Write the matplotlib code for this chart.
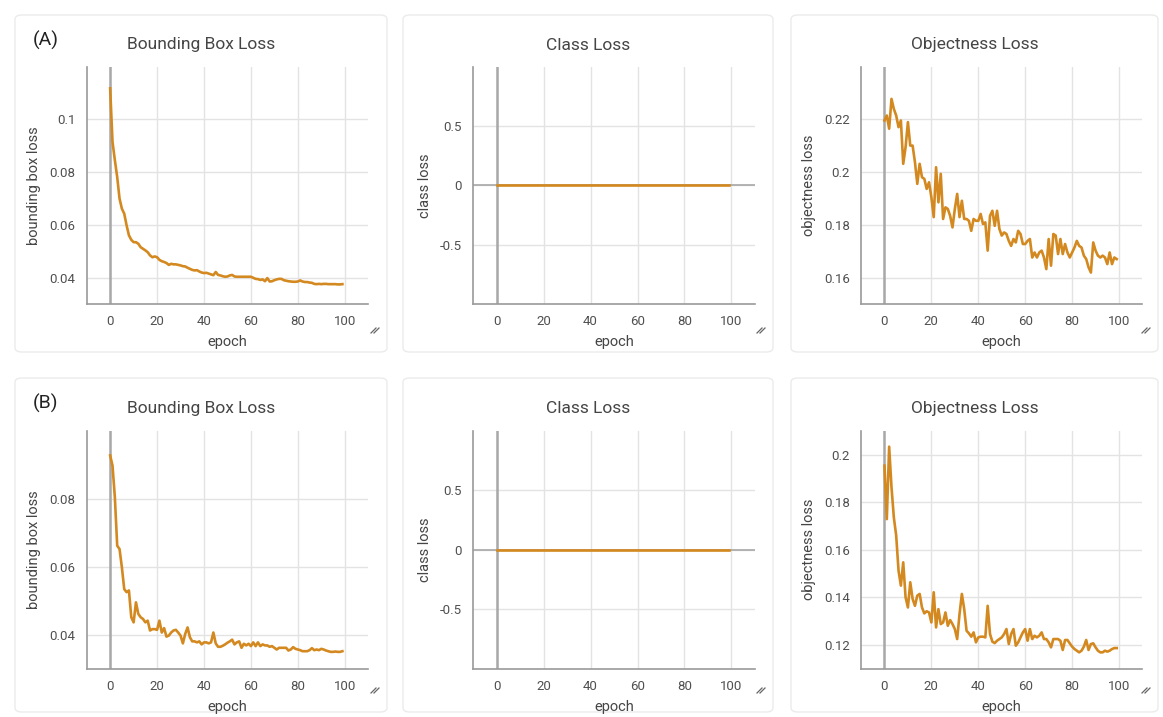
import numpy as np
import matplotlib.pyplot as plt
from matplotlib.patches import FancyBboxPatch
from matplotlib.lines import Line2D

plt.rcParams['font.family'] = ['Roboto', 'DejaVu Sans']

epochs = np.arange(100)

# (A) run
box_a = [0.1118, 0.0915, 0.0846, 0.0782, 0.0700, 0.0662, 0.0643, 0.0599, 0.0561, 0.0544,
         0.0535, 0.0535, 0.0529, 0.0516, 0.0510, 0.0504, 0.0497, 0.0485, 0.0478, 0.0481,
         0.0478, 0.0468, 0.0463, 0.0460, 0.0456, 0.0449, 0.0453, 0.0451, 0.0451, 0.0449,
         0.0447, 0.0444, 0.0443, 0.0438, 0.0434, 0.0430, 0.0428, 0.0429, 0.0424, 0.0420,
         0.0418, 0.0419, 0.0416, 0.0413, 0.0410, 0.0422, 0.0411, 0.0409, 0.0406, 0.0404,
         0.0405, 0.0409, 0.0411, 0.0405, 0.0404, 0.0404, 0.0404, 0.0404, 0.0404, 0.0404,
         0.0404, 0.0400, 0.0396, 0.0395, 0.0392, 0.0394, 0.0387, 0.0399, 0.0386, 0.0387,
         0.0391, 0.0394, 0.0396, 0.0396, 0.0391, 0.0389, 0.0387, 0.0386, 0.0385, 0.0385,
         0.0386, 0.0390, 0.0386, 0.0384, 0.0384, 0.0382, 0.0381, 0.0377, 0.0376, 0.0377,
         0.0376, 0.0377, 0.0377, 0.0376, 0.0376, 0.0376, 0.0376, 0.0375, 0.0375, 0.0376]
obj_a = [0.2196, 0.2215, 0.2165, 0.2278, 0.2240, 0.2215, 0.2171, 0.2196, 0.2032, 0.2095,
         0.2190, 0.2101, 0.2101, 0.2038, 0.1956, 0.2032, 0.1981, 0.1975, 0.1937, 0.1962,
         0.1905, 0.1830, 0.2019, 0.1886, 0.1994, 0.1823, 0.1867, 0.1861, 0.1835, 0.1791,
         0.1861, 0.1918, 0.1830, 0.1892, 0.1823, 0.1823, 0.1816, 0.1778, 0.1823, 0.1816,
         0.1816, 0.1842, 0.1804, 0.1810, 0.1703, 0.1835, 0.1854, 0.1797, 0.1854, 0.1785,
         0.1760, 0.1772, 0.1766, 0.1740, 0.1721, 0.1747, 0.1734, 0.1778, 0.1766, 0.1728,
         0.1728, 0.1740, 0.1747, 0.1677, 0.1696, 0.1677, 0.1696, 0.1703, 0.1677, 0.1633,
         0.1747, 0.1646, 0.1766, 0.1760, 0.1690, 0.1747, 0.1690, 0.1728, 0.1696, 0.1677,
         0.1696, 0.1715, 0.1740, 0.1721, 0.1715, 0.1684, 0.1671, 0.1640, 0.1620, 0.1734,
         0.1703, 0.1684, 0.1677, 0.1684, 0.1677, 0.1652, 0.1696, 0.1652, 0.1677, 0.1671]

# (B) run
box_b = [0.0928, 0.0898, 0.0805, 0.0662, 0.0652, 0.0598, 0.0534, 0.0525, 0.0530, 0.0451,
         0.0436, 0.0495, 0.0461, 0.0451, 0.0446, 0.0436, 0.0441, 0.0412, 0.0416, 0.0416,
         0.0414, 0.0441, 0.0406, 0.0419, 0.0394, 0.0397, 0.0406, 0.0412, 0.0414, 0.0406,
         0.0397, 0.0374, 0.0402, 0.0421, 0.0392, 0.0380, 0.0380, 0.0377, 0.0380, 0.0371,
         0.0377, 0.0377, 0.0374, 0.0377, 0.0406, 0.0374, 0.0364, 0.0364, 0.0367, 0.0371,
         0.0376, 0.0380, 0.0385, 0.0371, 0.0377, 0.0380, 0.0361, 0.0373, 0.0368, 0.0373,
         0.0366, 0.0377, 0.0366, 0.0377, 0.0366, 0.0371, 0.0368, 0.0368, 0.0364, 0.0366,
         0.0361, 0.0356, 0.0361, 0.0361, 0.0361, 0.0361, 0.0353, 0.0356, 0.0363, 0.0358,
         0.0356, 0.0354, 0.0351, 0.0351, 0.0351, 0.0354, 0.0360, 0.0354, 0.0356, 0.0354,
         0.0358, 0.0356, 0.0353, 0.0351, 0.0349, 0.0349, 0.0350, 0.0349, 0.0349, 0.0351]
obj_b = [0.1954, 0.1729, 0.2034, 0.1863, 0.1736, 0.1660, 0.1512, 0.1449, 0.1547, 0.1400,
         0.1357, 0.1463, 0.1393, 0.1364, 0.1407, 0.1414, 0.1357, 0.1332, 0.1341, 0.1336,
         0.1294, 0.1421, 0.1273, 0.1350, 0.1287, 0.1294, 0.1336, 0.1280, 0.1304, 0.1287,
         0.1266, 0.1224, 0.1329, 0.1414, 0.1350, 0.1259, 0.1248, 0.1234, 0.1252, 0.1210,
         0.1231, 0.1234, 0.1234, 0.1231, 0.1364, 0.1245, 0.1213, 0.1207, 0.1217, 0.1224,
         0.1231, 0.1245, 0.1266, 0.1203, 0.1245, 0.1266, 0.1196, 0.1210, 0.1231, 0.1252,
         0.1266, 0.1217, 0.1266, 0.1224, 0.1238, 0.1231, 0.1238, 0.1252, 0.1224, 0.1224,
         0.1210, 0.1189, 0.1224, 0.1224, 0.1224, 0.1217, 0.1178, 0.1220, 0.1220, 0.1206,
         0.1192, 0.1182, 0.1175, 0.1168, 0.1175, 0.1192, 0.1220, 0.1178, 0.1203, 0.1206,
         0.1189, 0.1175, 0.1168, 0.1168, 0.1175, 0.1171, 0.1175, 0.1182, 0.1186, 0.1186]

cls_a = [0.0] * 100
cls_b = [0.0] * 100

titles = ['Bounding Box Loss', 'Class Loss', 'Objectness Loss']
ylabels = ['bounding box loss', 'class loss', 'objectness loss']
xticks = [0, 20, 40, 60, 80, 100]

rows = [
    ('(A)', [box_a, cls_a, obj_a],
     [(0.03, 0.12), (-1, 1), (0.15, 0.24)],
     [[0.04, 0.06, 0.08, 0.1], [-0.5, 0, 0.5], [0.16, 0.18, 0.2, 0.22]]),
    ('(B)', [box_b, cls_b, obj_b],
     [(0.03, 0.10), (-1, 1), (0.11, 0.21)],
     [[0.04, 0.06, 0.08], [-0.5, 0, 0.5], [0.12, 0.14, 0.16, 0.18, 0.2]]),
]

W, H = 1163, 717
fig = plt.figure(figsize=(W / 100, H / 100), dpi=100)

card_x = [(15, 387), (403, 773), (791, 1158)]
card_y = [(15, 352), (378, 712)]
ax_left = [86.7, 473.3, 861]
ax_w = 281.5
ax_top = [66.7, 431]
ax_h = 237.5

line_col = '#d3891f'
txt_col = '#454545'

for r, (tag, series, ylims, yticks) in enumerate(rows):
    y0, y1 = card_y[r]
    for c in range(3):
        x0, x1 = card_x[c]
        fig.patches.append(FancyBboxPatch((x0 / W, 1 - y1 / H), (x1 - x0) / W, (y1 - y0) / H,
                                          boxstyle='round,pad=0,rounding_size=0.006',
                                          transform=fig.transFigure, facecolor='white',
                                          edgecolor='#ebebeb', lw=1, zorder=-5))
        fig.text((x0 + x1) / 2 / W, 1 - (y0 + 30) / H, titles[c], ha='center', va='center',
                 fontsize=12.5, color=txt_col)
        # resize handle
        hx, hy = x1 - 16, y1 - 24
        for d in (0, 3):
            fig.add_artist(Line2D([(hx + d) / W, (hx + d + 5) / W],
                                  [1 - (hy + 5) / H, 1 - hy / H],
                                  transform=fig.transFigure, color='#666', lw=0.9))

        ax = fig.add_axes([ax_left[c] / W, 1 - (ax_top[r] + ax_h) / H, ax_w / W, ax_h / H])
        ax.patch.set_alpha(0)
        ax.plot(epochs, series[c], color=line_col, lw=1.9, zorder=3)
        ax.set_xlim(-10, 110)
        ax.set_ylim(*ylims[c])
        ax.set_xticks(xticks)
        ax.set_yticks(yticks[c])
        ax.set_yticklabels([f'{v:g}' for v in yticks[c]])
        ax.grid(True, color='#e3e3e3', lw=1)
        ax.set_axisbelow(True)
        ax.axvline(0, color='#a8a8a8', lw=1.8, zorder=2)
        if c == 1:
            ax.axhline(0, color='#a8a8a8', lw=1.2, zorder=2)
        for s in ['top', 'right']:
            ax.spines[s].set_visible(False)
        for s in ['left', 'bottom']:
            ax.spines[s].set_color('#9a9a9a')
            ax.spines[s].set_linewidth(1.2)
        ax.tick_params(length=0, labelsize=9.5, labelcolor='#505050', pad=8)
        ax.set_xlabel('epoch', fontsize=10.5, color=txt_col, labelpad=5)
        ax.set_ylabel(ylabels[c], fontsize=10.5, color=txt_col, labelpad=6)

    fig.text(33 / W, 1 - (y0 + 25) / H, tag, ha='left', va='center', fontsize=14, color='#222')

fig.savefig('out.png', dpi=100, facecolor='white')
